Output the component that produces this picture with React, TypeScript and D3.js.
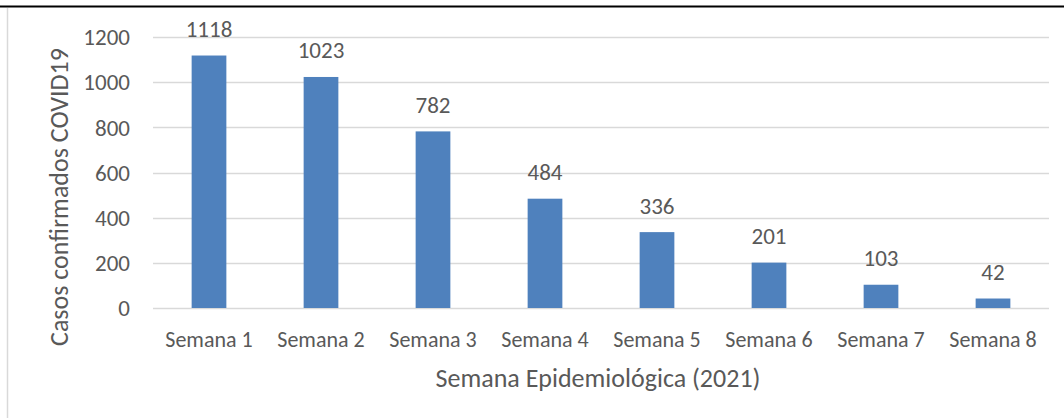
import React from 'react';
import * as d3 from 'd3';

const weeks = ['Semana 1', 'Semana 2', 'Semana 3', 'Semana 4', 'Semana 5', 'Semana 6', 'Semana 7', 'Semana 8'];
const cases = [1118, 1023, 782, 484, 336, 201, 103, 42];
const yTicks = [0, 200, 400, 600, 800, 1000, 1200];

const App: React.FC = () => {
  const ref = React.useRef<SVGSVGElement>(null);

  React.useEffect(() => {
    const svg = d3.select(ref.current);
    svg.selectAll('*').remove();

    const font = 'Carlito, Calibri, Lato, sans-serif';
    const textColor = '#595959';
    const left = 153;
    const right = 1049;
    const top = 37;
    const bottom = 308;

    // frame: black line on top, light gray on left
    svg.append('line').attr('x1', 0).attr('x2', 1064).attr('y1', 6.5).attr('y2', 6.5)
      .attr('stroke', '#000').attr('stroke-width', 2);
    svg.append('line').attr('x1', 7.5).attr('x2', 7.5).attr('y1', 8).attr('y2', 418)
      .attr('stroke', '#d9d9d9').attr('stroke-width', 1.5);

    const x = d3.scaleBand().domain(weeks).range([left, right]).paddingInner(0.69).paddingOuter(0.345);
    const y = d3.scaleLinear().domain([0, 1200]).range([bottom, top]);

    const grid = svg.append('g');
    grid.selectAll('line').data(yTicks).enter().append('line')
      .attr('x1', left).attr('x2', right)
      .attr('y1', (d: number) => Math.round(y(d)) + 0.5).attr('y2', (d: number) => Math.round(y(d)) + 0.5)
      .attr('stroke', '#d9d9d9').attr('stroke-width', 1.5);

    svg.append('g').selectAll('text').data(yTicks).enter().append('text')
      .attr('x', 130).attr('y', (d: number) => y(d))
      .attr('dy', '0.36em').attr('text-anchor', 'end')
      .attr('font-family', font).attr('font-size', 23).attr('fill', textColor)
      .text((d: number) => d);

    svg.append('g').selectAll('rect').data(cases).enter().append('rect')
      .attr('x', (_d: number, i: number) => x(weeks[i]) as number)
      .attr('width', x.bandwidth())
      .attr('y', (d: number) => y(d))
      .attr('height', (d: number) => y(0) - y(d))
      .attr('fill', '#4f81bd');

    svg.append('g').selectAll('text').data(cases).enter().append('text')
      .attr('x', (_d: number, i: number) => (x(weeks[i]) as number) + x.bandwidth() / 2)
      .attr('y', (d: number) => y(d) - 18.5)
      .attr('text-anchor', 'middle')
      .attr('font-family', font).attr('font-size', 23).attr('fill', textColor)
      .text((d: number) => d);

    svg.append('g').selectAll('text').data(weeks).enter().append('text')
      .attr('x', (d: string) => (x(d) as number) + x.bandwidth() / 2)
      .attr('y', 347)
      .attr('text-anchor', 'middle')
      .attr('font-family', font).attr('font-size', 22).attr('fill', textColor)
      .text((d: string) => d);

    svg.append('text')
      .attr('x', 598).attr('y', 387)
      .attr('text-anchor', 'middle')
      .attr('font-family', font).attr('font-size', 26).attr('fill', textColor)
      .text('Semana Epidemiológica (2021)');

    svg.append('text')
      .attr('transform', 'translate(68,197) rotate(-90)')
      .attr('text-anchor', 'middle')
      .attr('font-family', font).attr('font-size', 26).attr('fill', textColor)
      .text('Casos confirmados COVID19');
  }, []);

  return (
    <svg ref={ref} width={1064} height={418} style={{ position: 'absolute', left: 0, top: 0, background: '#fff' }} />
  );
};

export default App;
